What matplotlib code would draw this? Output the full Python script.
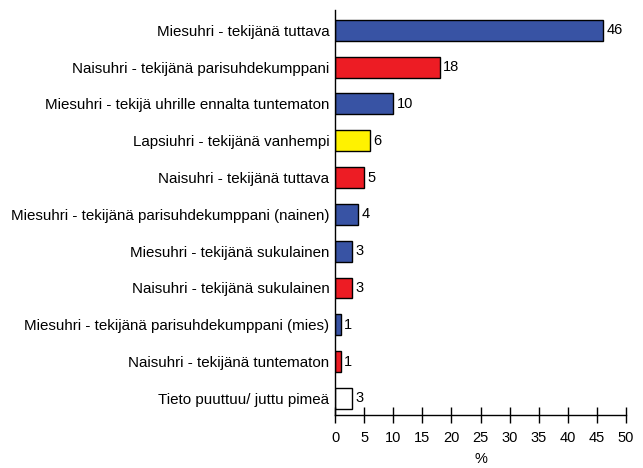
import matplotlib
matplotlib.use("Agg")
import matplotlib.pyplot as plt

categories = [
    "Miesuhri - tekijänä tuttava",
    "Naisuhri - tekijänä parisuhdekumppani",
    "Miesuhri - tekijä uhrille ennalta tuntematon",
    "Lapsiuhri - tekijänä vanhempi",
    "Naisuhri - tekijänä tuttava",
    "Miesuhri - tekijänä parisuhdekumppani (nainen)",
    "Miesuhri - tekijänä sukulainen",
    "Naisuhri - tekijänä sukulainen",
    "Miesuhri - tekijänä parisuhdekumppani (mies)",
    "Naisuhri - tekijänä tuntematon",
    "Tieto puuttuu/ juttu pimeä",
]
values = [46, 18, 10, 6, 5, 4, 3, 3, 1, 1, 3]
groups = ["mies", "nais", "mies", "lapsi", "nais", "mies", "mies", "nais", "mies", "nais", "tieto"]
group_colors = {"mies": "#3853A4", "nais": "#ED1C24", "lapsi": "#FFF200", "tieto": "#FFFFFF"}
xticks = list(range(0, 51, 5))

plt.rcParams["font.family"] = ["Liberation Sans", "DejaVu Sans"]

fig = plt.figure(figsize=(6.43, 4.68), dpi=100)
ax = fig.add_axes([0.521, 0.1132, 0.4526, 0.8654])

ypos = list(range(len(categories)))
ax.barh(ypos, values, height=0.57, color=[group_colors[g] for g in groups],
        edgecolor="black", linewidth=1.0)
for y, v in zip(ypos, values):
    ax.text(v + 0.6, y, str(v), va="center", ha="left", fontsize=10.5)

ax.set_yticks(ypos)
ax.set_yticklabels(categories, fontsize=10.9)
ax.tick_params(axis="y", length=0, pad=4)
ax.set_ylim(len(categories) - 0.55, -0.55)

ax.set_xlim(0, 50)
ax.set_xticks(xticks)
ax.set_xticklabels([str(t) for t in xticks], fontsize=10.5)
ax.tick_params(axis="x", direction="inout", length=11, width=1, pad=6)
ax.set_xlabel("%", fontsize=10.5, labelpad=5)

for s in ["top", "right"]:
    ax.spines[s].set_visible(False)
ax.spines["left"].set_linewidth(1)
ax.spines["bottom"].set_linewidth(1)

fig.savefig("out.png", dpi=100)
